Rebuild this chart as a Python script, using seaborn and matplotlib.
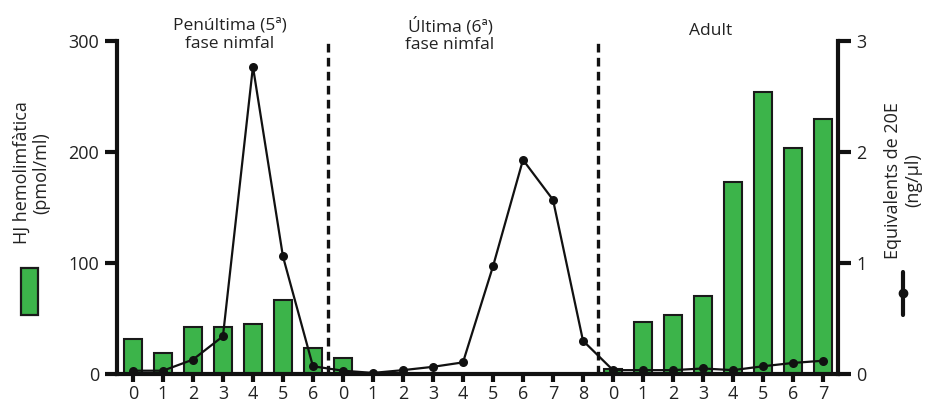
import numpy as np
import pandas as pd
import matplotlib
matplotlib.use("Agg")
import matplotlib.pyplot as plt
import seaborn as sns
from matplotlib.patches import Rectangle
from matplotlib.lines import Line2D

# Day labels for each developmental stage
days_penultima = ["0", "1", "2", "3", "4", "5", "6"]
days_ultima = ["0", "1", "2", "3", "4", "5", "6", "7", "8"]
days_adult = ["0", "1", "2", "3", "4", "5", "6", "7"]

# Haemolymph juvenile hormone (pmol/ml)
hj_penultima = [32, 19, 42, 42, 45, 67, 23.5]
hj_ultima = [14.5, np.nan, np.nan, np.nan, np.nan, np.nan, np.nan, np.nan, np.nan]
hj_adult = [4.5, 47, 53, 70, 173, 254, 204, 230]

# 20-hydroxyecdysone equivalents (ng/ul)
e20_penultima = [0.03, 0.03, 0.13, 0.34, 2.77, 1.06, 0.07]
e20_ultima = [0.03, 0.01, 0.035, 0.065, 0.105, 0.97, 1.93, 1.57, 0.30]
e20_adult = [0.035, 0.035, 0.035, 0.05, 0.035, 0.07, 0.10, 0.12]

stage_titles = ["Penúltima (5ª)\nfase nimfal", "Última (6ª)\nfase nimfal", "Adult"]

labels = days_penultima + days_ultima + days_adult
df = pd.DataFrame({
    "pos": np.arange(len(labels)),
    "hj": hj_penultima + hj_ultima + hj_adult,
    "e20": e20_penultima + e20_ultima + e20_adult,
})

sns.set_theme(style="white")
plt.rcParams["font.family"] = ["Open Sans", "DejaVu Sans"]

fig = plt.figure(figsize=(9.25, 4.07), dpi=100)
ax = fig.add_axes([0.1265, 0.081, 0.7795, 0.818])

green = "#3cb44a"
ink = "#111111"
txt = "#222222"

sns.barplot(data=df, x="pos", y="hj", ax=ax, color=green, width=0.6,
            edgecolor="#1a1a1a", linewidth=1.5, saturation=1, order=list(df["pos"]))

ax2 = ax.twinx()
sns.lineplot(data=df, x="pos", y="e20", ax=ax2, color=ink, linewidth=1.6,
             marker="o", markersize=6.5, markeredgewidth=0, markerfacecolor=ink)

n1, n2 = len(days_penultima), len(days_ultima)
for xb in (n1 - 0.5, n1 + n2 - 0.5):
    ax.axvline(xb, ymin=0, ymax=0.995, color=ink, linewidth=2.4,
               linestyle=(0, (2.6, 1.6)), zorder=1)

xlim = (-0.53, len(labels) - 0.5)
ax.set_xlim(*xlim)
ax2.set_xlim(*xlim)
ax.set_ylim(0, 300)
ax2.set_ylim(0, 3)

ax.set_yticks([0, 100, 200, 300])
ax2.set_yticks([0, 1, 2, 3])
ax.set_xticks(df["pos"])
ax.set_xticklabels(labels)
for a in (ax, ax2):
    a.set_xlabel("")
    a.set_ylabel("")
    for s in a.spines.values():
        s.set_visible(False)
    a.grid(False)

ax.spines["left"].set_visible(True)
ax.spines["bottom"].set_visible(True)
ax2.spines["right"].set_visible(True)
for s in (ax.spines["left"], ax.spines["bottom"], ax2.spines["right"]):
    s.set_linewidth(3)
    s.set_color(ink)

ax.tick_params(axis="y", direction="out", length=9, width=3, color=ink,
               labelsize=13, pad=4, labelcolor=txt, left=True)
ax2.tick_params(axis="y", direction="out", length=9, width=3, color=ink,
                labelsize=13, pad=4, labelcolor=txt, right=True)
ax.tick_params(axis="x", direction="out", length=6, width=3, color=ink,
               labelsize=13, pad=2, labelcolor=txt, bottom=True)

# stage headings
xt = ax.get_xaxis_transform()
ax.text(3.22, 1.018, stage_titles[0], transform=xt, ha="center", va="center",
        fontsize=12.5, color=txt, linespacing=1.15)
ax.text(10.57, 1.018, stage_titles[1], transform=xt, ha="center", va="center",
        fontsize=12.5, color=txt, linespacing=1.15)
ax.text(19.25, 1.03, stage_titles[2], transform=xt, ha="center", va="center",
        fontsize=12.5, color=txt)

# axis titles with their series keys
fig.text(0.034, 0.575, "HJ hemolimfàtica\n(pmol/ml)", rotation=90, ha="center",
         va="center", fontsize=13, color=txt, linespacing=1.15)
fig.patches.append(Rectangle((21 / 925, 1 - 315 / 407), 17 / 925, 47 / 407,
                             transform=fig.transFigure, facecolor=green,
                             edgecolor="#1a1a1a", linewidth=1.6))
fig.text(0.976, 0.557, "Equivalents de 20E\n(ng/µl)", rotation=90, ha="center",
         va="center", fontsize=13, color=txt, linespacing=1.15)
fig.lines.append(Line2D([903 / 925, 903 / 925], [1 - 272 / 407, 1 - 315 / 407],
                        transform=fig.transFigure, color=ink, linewidth=3))
fig.lines.append(Line2D([903 / 925], [1 - 293 / 407], transform=fig.transFigure,
                        marker="o", markersize=6, color=ink))

fig.savefig("out.png", dpi=100)
